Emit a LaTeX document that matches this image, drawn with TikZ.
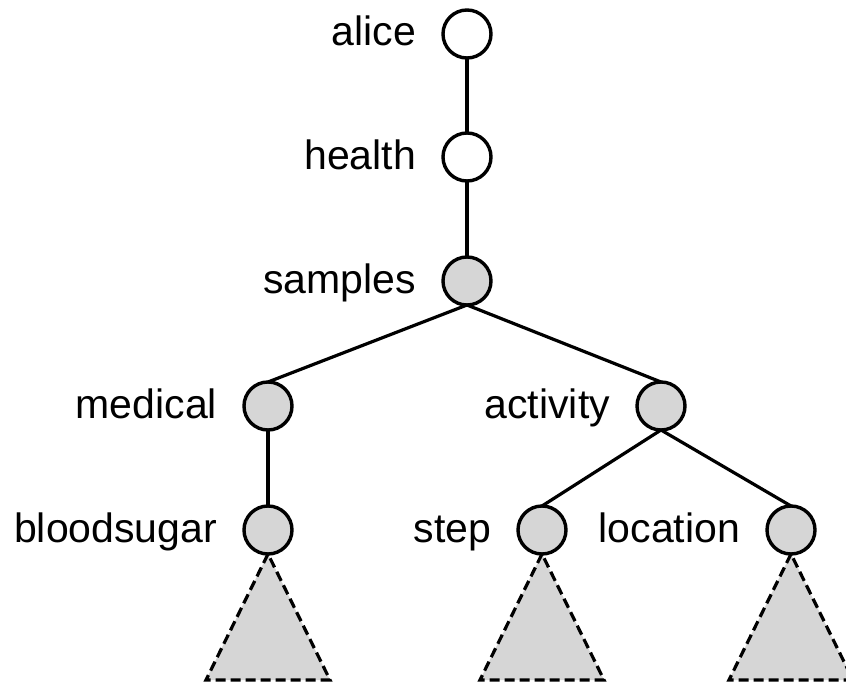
\documentclass[tikz,border=0pt]{standalone}
\usepackage{fontspec}
\setmainfont{Liberation Sans}
\begin{document}
\begin{tikzpicture}[x=1pt,y=-1pt,
  every node/.style={inner sep=0pt, outer sep=0pt},
  treenode/.style={circle, draw=black, line width=3.4pt, minimum size=48pt},
  open/.style={treenode, fill=white},
  shaded/.style={treenode, fill=nodegray},
  tag/.style={anchor=base east, font=\fontsize{41}{49}\selectfont},
  edge/.style={line width=3.2pt, draw=black},
  subtree/.style={line width=3.2pt, draw=black, fill=nodegray, dash pattern=on 10pt off 5pt, line join=miter}
]
\definecolor{nodegray}{HTML}{D6D6D6}
\useasboundingbox (0,0) rectangle (846,685);

% tree nodes
\node[open]   (alice)      at (467,34)  {};
\node[open]   (health)     at (467,157) {};
\node[shaded] (samples)    at (467,281) {};
\node[shaded] (medical)    at (268,406) {};
\node[shaded] (activity)   at (661,406) {};
\node[shaded] (bloodsugar) at (268,530) {};
\node[shaded] (step)       at (542,530) {};
\node[shaded] (location)   at (791,530) {};

% labels to the left of each node
\foreach \n in {alice,health,samples,medical,activity,bloodsugar,step,location}
  \node[tag] (\n-label) at ([xshift=-51pt,yshift=-12pt]\n.center) {\n};

% edges
\draw[edge] (alice.south) -- (health.north);
\draw[edge] (health.south) -- (samples.north);
\draw[edge] (samples.south) -- (medical.north);
\draw[edge] (samples.south) -- (activity.north);
\draw[edge] (medical.south) -- (bloodsugar.north);
\draw[edge] (activity.south) -- (step.north);
\draw[edge] (activity.south) -- (location.north);

% collapsed subtrees
\foreach \n in {bloodsugar,step,location}
  \draw[subtree] (\n.south) -- ([xshift=-62pt,yshift=-126pt]\n.south)
    -- ([xshift=62pt,yshift=-126pt]\n.south) -- cycle;
\end{tikzpicture}
\end{document}
